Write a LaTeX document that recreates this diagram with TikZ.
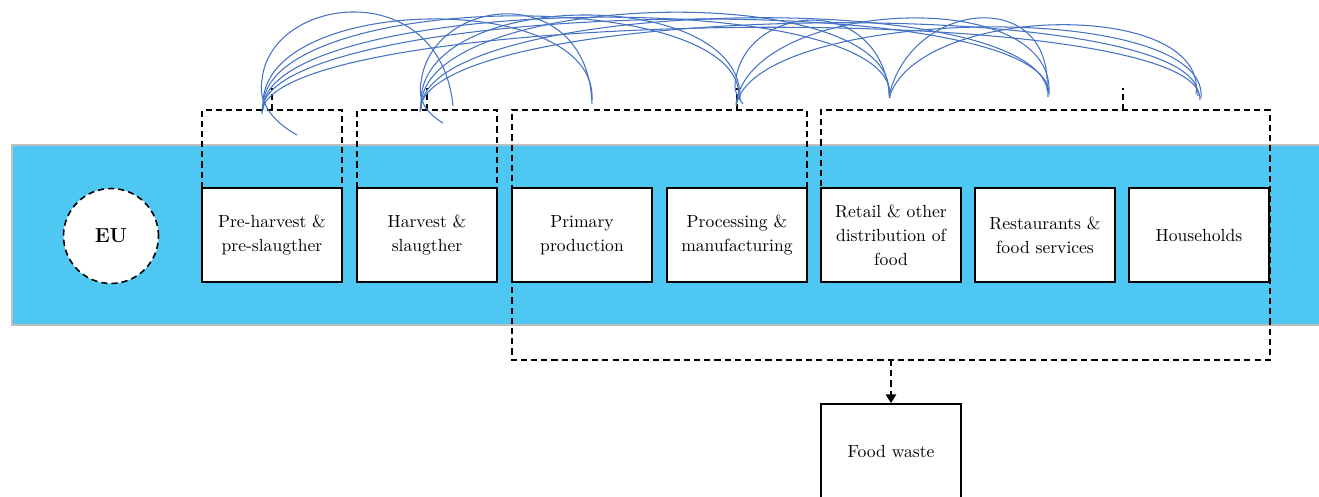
\documentclass[tikz,border=0pt]{standalone}
\usetikzlibrary{arrows.meta}
\definecolor{bandblue}{RGB}{79,199,243}
\definecolor{arcblue}{RGB}{68,114,196}
\begin{document}
\begin{tikzpicture}[x=0.02cm,y=-0.02cm,
  stage/.style={draw=black, line width=1.1pt, fill=white, minimum width=2.8cm, minimum height=1.88cm, inner sep=0pt, align=center, font=\fontsize{10}{13.6}\selectfont},
  grp/.style={draw=black, line width=0.9pt, dash pattern=on 3.5pt off 2.3pt},
  link/.style={draw=arcblue, line width=0.6pt}]
\useasboundingbox (0,0) rectangle (1319,497);
% band
\fill[bandblue] (12,145) rectangle (1322,325);
\draw[black!25, line width=0.6pt] (1322,145) -- (12,145) -- (12,325) -- (1322,325);
% group outlines
\draw[grp] (202,188) -- (202,110) -- (342,110) -- (342,188);
\draw[grp] (272,110) -- (272,88);
\draw[grp] (357,188) -- (357,110) -- (497,110) -- (497,188);
\draw[grp] (427,110) -- (427,88);
\draw[grp] (807,188) -- (807,110) -- (512,110) -- (512,360) -- (1270,360) -- (1270,110) -- (821,110) -- (821,188);
\draw[grp] (737,110) -- (737,88);
\draw[grp] (1123,110) -- (1123,88);
\coordinate (gb) at (891,360);
% EU
\node[draw=black, circle, line width=0.9pt, dash pattern=on 3.5pt off 2.3pt, fill=white, minimum size=1.9cm, inner sep=0pt, font=\fontsize{11.5}{14}\selectfont\bfseries] (eu) at (111,236) {EU};
% stages
\node[stage] (b1) at (272,235) {Pre-harvest \&\\pre-slaugther};
\node[stage] (b2) at (427,235) {Harvest \&\\slaugther};
\node[stage] (b3) at (582,235) {Primary\\production};
\node[stage] (b4) at (737,235) {Processing \&\\manufacturing};
\node[stage] (b5) at (891,235) {Retail \& other\\distribution of\\food};
\node[stage] (b6) at (1045,235) {Restaurants \&\\food services};
\node[stage] (b7) at (1199,235) {Households};
\node[stage] (fw) at (891,451) {Food waste};
\draw[grp, -{Triangle[width=6pt,length=5pt]}] (gb) -- (fw.north);
% arc end points
\coordinate (s1a) at (297,135);
\coordinate (s1b) at (263,106);
\coordinate (s1c) at (263,108);
\coordinate (s1d) at (263,110);
\coordinate (s1e) at (262,112);
\coordinate (s1f) at (262,114);
\coordinate (s2a) at (443,123);
\coordinate (s2b) at (421,104);
\coordinate (s2c) at (421,108);
\coordinate (s2d) at (421,110);
\coordinate (s2e) at (420,112);
\coordinate (s4a) at (743,104);
\coordinate (s4b) at (736,104);
\coordinate (s4c) at (736,106);
\coordinate (s5a) at (889,96);
\coordinate (s5b) at (889,98);
\coordinate (e2) at (453,106);
\coordinate (e3a) at (592,104);
\coordinate (e3b) at (592,100);
\coordinate (e4a) at (739,98);
\coordinate (e4b) at (740,100);
\coordinate (e5a) at (890,96);
\coordinate (e5b) at (889,94);
\coordinate (e5c) at (890,98);
\coordinate (e6a) at (1049,95);
\coordinate (e6b) at (1048,97);
\coordinate (e6c) at (1049,93);
\coordinate (e6d) at (1047,90);
\coordinate (e7a) at (1200,100);
\coordinate (e7b) at (1198,96);
\coordinate (e7c) at (1201,98);
\coordinate (e7d) at (1196,94);
\coordinate (e7e) at (1192,88);
% arcs
\draw[link] (s1a) .. controls (270,120) and (258,100) .. (262,80) .. controls (270,-5) and (440,-25) .. (e2);
\draw[link] (s2a) .. controls (425,112) and (418,100) .. (421,82) .. controls (432,-5) and (588,-20) .. (e3a);
\draw[link] (s1b) .. controls +(-4,-112) and +(6,-112) .. (e3b);
\draw[link] (s1c) .. controls +(-4,-116) and +(6,-116) .. (e4a);
\draw[link] (s1d) .. controls +(-4,-114) and +(6,-114) .. (e5a);
\draw[link] (s1e) .. controls +(-4,-112) and +(6,-112) .. (e6a);
\draw[link] (s1f) .. controls +(-4,-108) and +(8,-104) .. (e7a);
\draw[link] (s2b) .. controls +(-4,-116) and +(6,-116) .. (e4b);
\draw[link] (s2c) .. controls +(-4,-118) and +(6,-118) .. (e5b);
\draw[link] (s2d) .. controls +(-4,-114) and +(6,-114) .. (e6b);
\draw[link] (s2e) .. controls +(-4,-112) and +(8,-104) .. (e7b);
\draw[link] (s4a) .. controls (737,96) and (733,90) .. (736,78) .. controls (748,5) and (880,-10) .. (e5c);
\draw[link] (s4b) .. controls +(14,-104) and +(6,-110) .. (e6c);
\draw[link] (s4c) .. controls +(18,-100) and +(10,-100) .. (e7c);
\draw[link] (s5a) .. controls +(22,-96) and +(6,-104) .. (e6d);
\draw[link] (s5b) .. controls +(28,-94) and +(12,-96) .. (e7d);
\end{tikzpicture}
\end{document}
